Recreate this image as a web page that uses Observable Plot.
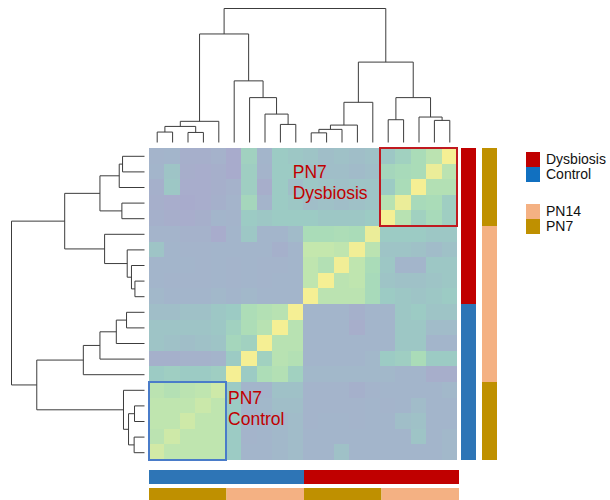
<!DOCTYPE html>
<html>
<head>
<meta charset="utf-8">
<script src="https://cdn.jsdelivr.net/npm/d3@7"></script>
<script src="https://cdn.jsdelivr.net/npm/@observablehq/plot@0.6"></script>
<style>
  body { margin: 0; background: #fff; font-family: "Liberation Sans", Arial, Helvetica, sans-serif; }
  #fig { position: relative; width: 610px; height: 500px; overflow: hidden; background: #fff; }
  .panel { position: absolute; }
  .panel svg { display: block; background: transparent; }
  .key { position: absolute; left: 526px; font-size: 14px; color: #111; }
  .key .sw { position: absolute; left: 0; width: 14px; height: 15px; }
  .key .lb { position: absolute; left: 20px; white-space: nowrap; line-height: 15px; }
</style>
</head>
<body>
<div id="fig"></div>
<script>
// Pairwise sample similarity, rows listed top to bottom, columns left to right.
const r01 = [0.28,0.30,0.20,0.20,0.24, 0.12,0.50,0.30,0.45,0.42, 0.40,0.36,0.38,0.36,0.38, 0.42,0.50,0.60,0.70,1.00];
const r02 = [0.30,0.40,0.18,0.15,0.20, 0.12,0.48,0.28,0.45,0.45, 0.38,0.36,0.36,0.34,0.36, 0.55,0.58,0.60,0.95,0.70];
const r03 = [0.22,0.42,0.15,0.15,0.20, 0.25,0.48,0.18,0.45,0.36, 0.42,0.40,0.38,0.40,0.40, 0.45,0.60,1.00,0.65,0.65];
const r04 = [0.20,0.15,0.12,0.15,0.22, 0.28,0.55,0.28,0.45,0.42, 0.36,0.38,0.36,0.38,0.40, 0.68,0.95,0.58,0.60,0.48];
const r05 = [0.22,0.18,0.15,0.20,0.30, 0.28,0.45,0.42,0.45,0.45, 0.45,0.42,0.42,0.42,0.45, 1.00,0.68,0.50,0.58,0.48];
const r06 = [0.28,0.28,0.25,0.25,0.14, 0.30,0.42,0.30,0.30,0.34, 0.60,0.60,0.62,0.60,0.95, 0.45,0.45,0.45,0.42,0.42];
const r07 = [0.40,0.30,0.28,0.28,0.30, 0.30,0.30,0.30,0.22,0.30, 0.75,0.75,0.72,0.98,0.70, 0.40,0.40,0.38,0.35,0.38];
const r08 = [0.30,0.30,0.30,0.28,0.30, 0.28,0.30,0.28,0.28,0.30, 0.72,0.65,0.98,0.72,0.60, 0.42,0.30,0.30,0.42,0.42];
const r09 = [0.30,0.28,0.28,0.28,0.30, 0.28,0.30,0.28,0.30,0.30, 0.72,1.00,0.70,0.72,0.58, 0.40,0.38,0.38,0.40,0.42];
const r10 = [0.32,0.30,0.30,0.30,0.32, 0.30,0.32,0.30,0.30,0.30, 1.00,0.70,0.70,0.70,0.58, 0.45,0.42,0.40,0.42,0.45];
const r11 = [0.36,0.36,0.38,0.38,0.42, 0.45,0.62,0.65,0.68,1.00, 0.30,0.30,0.30,0.22,0.30, 0.30,0.42,0.45,0.40,0.40];
const r12 = [0.40,0.40,0.40,0.40,0.42, 0.50,0.62,0.68,1.00,0.68, 0.30,0.30,0.30,0.18,0.30, 0.30,0.42,0.42,0.35,0.35];
const r13 = [0.40,0.38,0.36,0.38,0.40, 0.55,0.50,1.00,0.68,0.68, 0.30,0.30,0.30,0.30,0.30, 0.30,0.42,0.42,0.30,0.30];
const r14 = [0.22,0.22,0.25,0.25,0.28, 0.45,1.00,0.50,0.68,0.65, 0.30,0.30,0.30,0.30,0.32, 0.45,0.48,0.60,0.45,0.45];
const r15 = [0.45,0.48,0.45,0.45,0.48, 1.00,0.45,0.62,0.65,0.50, 0.32,0.32,0.32,0.32,0.32, 0.32,0.30,0.30,0.18,0.18];
const r16 = [0.70,0.66,0.70,0.72,0.80, 0.45,0.30,0.30,0.38,0.38, 0.28,0.28,0.28,0.22,0.28, 0.30,0.30,0.30,0.30,0.32];
const r17 = [0.72,0.72,0.72,0.78,0.72, 0.45,0.30,0.32,0.36,0.36, 0.28,0.28,0.28,0.28,0.30, 0.28,0.30,0.35,0.30,0.30];
const r18 = [0.72,0.72,0.80,0.72,0.72, 0.45,0.30,0.30,0.32,0.35, 0.28,0.30,0.30,0.28,0.30, 0.30,0.36,0.38,0.30,0.30];
const r19 = [0.70,0.80,0.72,0.72,0.72, 0.45,0.28,0.30,0.32,0.35, 0.30,0.30,0.30,0.30,0.30, 0.30,0.30,0.40,0.30,0.32];
const r20 = [0.82,0.72,0.72,0.72,0.72, 0.45,0.30,0.30,0.32,0.35, 0.30,0.30,0.38,0.30,0.30, 0.30,0.30,0.30,0.30,0.32];
const matrixRows = [r01,r02,r03,r04,r05,r06,r07,r08,r09,r10,r11,r12,r13,r14,r15,r16,r17,r18,r19,r20];

// Sample annotations along the columns (left to right) and rows (top to bottom).
const colGroup = ["Control","Control","Control","Control","Control","Control","Control","Control","Control","Control",
                  "Dysbiosis","Dysbiosis","Dysbiosis","Dysbiosis","Dysbiosis","Dysbiosis","Dysbiosis","Dysbiosis","Dysbiosis","Dysbiosis"];
const colAge   = ["PN7","PN7","PN7","PN7","PN7","PN14","PN14","PN14","PN14","PN14",
                  "PN7","PN7","PN7","PN7","PN7","PN14","PN14","PN14","PN14","PN14"];
const rowGroup = ["Dysbiosis","Dysbiosis","Dysbiosis","Dysbiosis","Dysbiosis","Dysbiosis","Dysbiosis","Dysbiosis","Dysbiosis","Dysbiosis",
                  "Control","Control","Control","Control","Control","Control","Control","Control","Control","Control"];
const rowAge   = ["PN7","PN7","PN7","PN7","PN7","PN14","PN14","PN14","PN14","PN14",
                  "PN14","PN14","PN14","PN14","PN14","PN7","PN7","PN7","PN7","PN7"];

// Hierarchical clustering (hclust-style merge table): negative = leaf at that column, positive = earlier merge.
const mergeA = [-1, -3, 1,  3, -9, -8, -7, -6, 4, -11, 10, 11, 12, -16, -19, -18, 14, 13, 9];
const mergeB = [-2, -4, 2, -5, -10, 5,  6,  7, 8, -12, -13, -14, -15, -17, -20, 15, 16, 17, 18];
const mergeH = [0.078, 0.075, 0.12, 0.158, 0.135, 0.212, 0.335, 0.46, 0.81,
                0.072, 0.098, 0.13, 0.30, 0.17, 0.165, 0.19, 0.335, 0.60, 1.0];

// Highlighted blocks and their captions (in cell units).
const boxLabels = ["PN7\nDysbiosis", "PN7\nControl"];
const boxColors = ["#c0191f", "#4a7cc9"];
const boxCols   = [[15, 20], [0, 5]];
const boxRows   = [[0, 5], [15, 20]];
const labelAt   = [[9.3, 0.92], [5.1, 15.45]];

const groupNames  = ["Dysbiosis", "Control", "PN14", "PN7"];
const groupColors = ["#c00000", "#2e75b6", "#f4b183", "#bf9000"];
const keyColors   = ["#c00000", "#1170c0", "#f4b183", "#bf9000"];

const n = 20;
const fig = document.getElementById("fig");
function place(node, left, top, w, h) {
  const d = document.createElement("div");
  d.className = "panel";
  d.style.left = left + "px"; d.style.top = top + "px";
  d.style.width = w + "px"; d.style.height = h + "px";
  d.append(node);
  fig.append(d);
}

// Heatmap
const cells = [];
matrixRows.forEach((row, r) => row.forEach((v, c) => cells.push({row: r, col: c, value: v})));
const boxes = boxLabels.map((t, i) => ({label: t, color: boxColors[i],
  c0: boxCols[i][0], c1: boxCols[i][1], r0: boxRows[i][0], r1: boxRows[i][1],
  lx: labelAt[i][0], ly: labelAt[i][1]}));

const hmW = 308, hmH = 312, pad = 3;
const heat = Plot.plot({
  width: hmW + 2 * pad, height: hmH + 2 * pad,
  margin: pad,
  style: {background: "transparent"},
  x: {domain: [0, n], axis: null},
  y: {domain: [0, n], reverse: true, axis: null},
  color: {type: "linear", domain: [0, 0.3, 0.45, 0.6, 0.75, 1],
          range: ["#aca4cc", "#a3b5cb", "#9ccbc4", "#aadcb8", "#c4e7ad", "#f5ef94"]},
  marks: [
    Plot.rect(cells, {x1: "col", x2: d => d.col + 1, y1: "row", y2: d => d.row + 1, fill: "value", shapeRendering: "crispEdges"}),
    ...boxes.map(b => Plot.rect([b], {x1: "c0", x2: "c1", y1: "r0", y2: "r1", fill: "none", stroke: b.color, strokeWidth: 2})),
    ...boxes.map(b => Plot.text([b], {x: "lx", y: "ly", text: "label", fill: "#c00000", fontSize: 17.5,
      textAnchor: "start", lineAnchor: "top", lineHeight: 1.2, fontFamily: "Liberation Sans, Arial, sans-serif"}))
  ]
});
place(heat, 149 - pad, 148 - pad, hmW + 2 * pad, hmH + 2 * pad);

// Dendrogram segments from the merge table
function dendroSegments() {
  const pos = [], hgt = [], segs = [];
  const P = k => k < 0 ? -k - 0.5 : pos[k - 1];
  const H = k => k < 0 ? 0 : hgt[k - 1];
  mergeA.forEach((a, i) => {
    const b = mergeB[i], h = mergeH[i], pa = P(a), pb = P(b);
    segs.push({p1: pa, h1: H(a), p2: pa, h2: h});
    segs.push({p1: pb, h1: H(b), p2: pb, h2: h});
    segs.push({p1: pa, h1: h, p2: pb, h2: h});
    pos.push((pa + pb) / 2); hgt.push(h);
  });
  return segs;
}
const segs = dendroSegments();
const lineColor = "#3c3c3c";

const topTree = Plot.plot({
  width: hmW, height: 148,
  marginLeft: 0, marginRight: 0, marginTop: 8, marginBottom: 6,
  style: {background: "transparent"},
  x: {domain: [0, n], axis: null},
  y: {domain: [0, 1], axis: null},
  marks: [Plot.link(segs, {x1: "p1", y1: "h1", x2: "p2", y2: "h2", stroke: lineColor, strokeWidth: 1})]
});
place(topTree, 149, 0, hmW, 148);

const leftTree = Plot.plot({
  width: 149, height: hmH,
  marginLeft: 11, marginRight: 5, marginTop: 0, marginBottom: 0,
  style: {background: "transparent"},
  x: {domain: [0, 1], reverse: true, axis: null},
  y: {domain: [0, n], axis: null},
  marks: [Plot.link(segs, {x1: "h1", y1: "p1", x2: "h2", y2: "p2", stroke: lineColor, strokeWidth: 1})]
});
place(leftTree, 0, 148, 149, hmH);

// Annotation tracks
function runs(values, track) {
  const out = [];
  values.forEach((v, i) => {
    const last = out[out.length - 1];
    if (last && last.key === v) last.end = i + 1;
    else out.push({track, key: v, start: i, end: i + 1});
  });
  return out;
}
const colorScale = {domain: groupNames, range: groupColors};

const sideTracks = [...runs(rowGroup, "group"), ...runs(rowAge, "age")];
const side = Plot.plot({
  width: 37, height: hmH, margin: 0,
  style: {background: "transparent"},
  x: {type: "band", domain: ["group", "age"], paddingInner: 0.28, paddingOuter: 0, axis: null},
  y: {domain: [0, n], reverse: true, axis: null},
  color: colorScale,
  marks: [Plot.barY(sideTracks, {x: "track", y1: "start", y2: "end", fill: "key", inset: 0})]
});
place(side, 461, 148, 37, hmH);

const bottomTracks = [...runs(colGroup, "group"), ...runs(colAge, "age")];
const bottom = Plot.plot({
  width: hmW + 2, height: 33, margin: 0,
  style: {background: "transparent"},
  x: {domain: [0, n], axis: null},
  y: {type: "band", domain: ["group", "age"], paddingInner: 0.2, paddingOuter: 0, axis: null},
  color: colorScale,
  marks: [Plot.barX(bottomTracks, {y: "track", x1: "start", x2: "end", fill: "key", inset: 0})]
});
place(bottom, 149, 470, hmW + 2, 33);

// Key
const keyTops = [152, 166.5, 204, 218.5];
groupNames.forEach((name, i) => {
  const k = document.createElement("div");
  k.className = "key";
  k.style.top = keyTops[i] + "px";
  k.innerHTML = `<div class="sw" style="background:${keyColors[i]}"></div><div class="lb">${name}</div>`;
  fig.append(k);
});
</script>
</body>
</html>
